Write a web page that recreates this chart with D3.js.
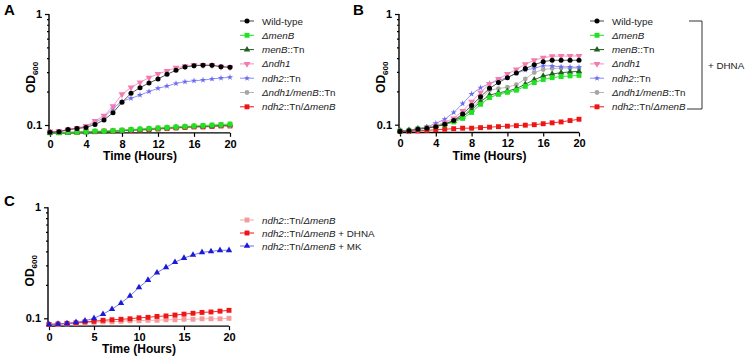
<!DOCTYPE html>
<html>
<head>
<meta charset="utf-8">
<script src="https://cdn.jsdelivr.net/npm/d3@7"></script>
<style>
  body { margin: 0; background: #fff; }
  svg { font-family: "Liberation Sans", Arial, sans-serif; }
  .tick text { font-weight: bold; font-size: 11px; }
</style>
</head>
<body>
<script>
//time points (hours)
var hours = [0,1,2,3,4,5,6,7,8,9,10,11,12,13,14,15,16,17,18,19,20];

//panel A values (OD600)
var aWT      = [0.086,0.087,0.091,0.093,0.095,0.101,0.111,0.129,0.160,0.193,0.217,0.239,0.260,0.286,0.311,0.333,0.342,0.345,0.345,0.335,0.331];
var aMenB    = [0.085,0.085,0.086,0.086,0.087,0.088,0.088,0.089,0.090,0.091,0.092,0.093,0.094,0.095,0.096,0.097,0.098,0.099,0.100,0.101,0.102];
var aMenBTn  = [0.085,0.085,0.085,0.086,0.086,0.087,0.087,0.088,0.089,0.090,0.091,0.092,0.093,0.094,0.095,0.096,0.097,0.097,0.098,0.099,0.100];
var aNdh1    = [0.087,0.088,0.091,0.094,0.098,0.109,0.121,0.148,0.189,0.218,0.242,0.267,0.288,0.307,0.328,0.338,0.347,0.347,0.345,0.335,0.331];
var aNdh2    = [0.086,0.087,0.091,0.093,0.097,0.105,0.117,0.141,0.164,0.174,0.186,0.200,0.214,0.224,0.237,0.245,0.250,0.254,0.260,0.265,0.269];
var aNdh1Men = [0.085,0.085,0.085,0.086,0.086,0.087,0.087,0.088,0.089,0.090,0.091,0.092,0.093,0.094,0.095,0.096,0.097,0.097,0.098,0.099,0.099];
var aNdh2Men = [0.086,0.086,0.086,0.086,0.087,0.087,0.088,0.088,0.089,0.090,0.090,0.091,0.092,0.093,0.094,0.095,0.096,0.096,0.097,0.098,0.098];

//panel B values (OD600, + DHNA)
var bWT      = [0.087,0.088,0.091,0.093,0.096,0.101,0.109,0.125,0.149,0.179,0.213,0.240,0.266,0.293,0.321,0.348,0.371,0.382,0.382,0.382,0.382];
var bMenB    = [0.088,0.089,0.092,0.094,0.097,0.100,0.106,0.114,0.129,0.153,0.176,0.188,0.196,0.205,0.222,0.240,0.256,0.266,0.272,0.276,0.279];
var bMenBTn  = [0.088,0.089,0.092,0.094,0.097,0.101,0.108,0.118,0.136,0.162,0.185,0.194,0.201,0.212,0.232,0.255,0.275,0.287,0.295,0.300,0.303];
var bNdh1    = [0.087,0.088,0.091,0.094,0.098,0.105,0.114,0.133,0.161,0.196,0.233,0.259,0.287,0.316,0.351,0.382,0.403,0.415,0.417,0.417,0.418];
var bNdh2    = [0.088,0.089,0.092,0.095,0.103,0.112,0.129,0.155,0.189,0.216,0.235,0.252,0.266,0.291,0.312,0.323,0.341,0.339,0.334,0.332,0.330];
var bNdh1Men = [0.088,0.089,0.092,0.094,0.097,0.102,0.110,0.121,0.141,0.170,0.205,0.212,0.218,0.230,0.259,0.296,0.315,0.322,0.325,0.325,0.325];
var bNdh2Men = [0.087,0.087,0.088,0.089,0.090,0.091,0.092,0.093,0.093,0.094,0.095,0.096,0.097,0.098,0.099,0.100,0.102,0.104,0.106,0.109,0.112];

//panel C values (OD600)
var cNone = [0.088,0.088,0.089,0.090,0.091,0.092,0.093,0.093,0.094,0.095,0.095,0.096,0.096,0.097,0.097,0.098,0.098,0.099,0.099,0.099,0.100];
var cDHNA = [0.088,0.089,0.090,0.091,0.093,0.094,0.096,0.097,0.098,0.099,0.101,0.102,0.104,0.105,0.107,0.109,0.111,0.113,0.114,0.116,0.118];
var cMK   = [0.088,0.089,0.090,0.092,0.095,0.100,0.109,0.121,0.137,0.159,0.190,0.221,0.258,0.288,0.320,0.349,0.372,0.393,0.401,0.410,0.410];

//tick labels
var xTicksAB = [0,4,8,12,16,20];
var xTicksC = [0,5,10,15,20];
var yMajor = [0.1,1];
var yMinor = [0.2,0.3,0.4,0.5,0.6,0.7,0.8,0.9];

//legend labels, split into [text, italic] pieces
var strainLabels = [
    [["Wild-type",0]],
    [["\u0394menB",1]],
    [["menB",1],["::Tn",0]],
    [["\u0394ndh1",1]],
    [["ndh2",1],["::Tn",0]],
    [["\u0394ndh1/menB",1],["::Tn",0]],
    [["ndh2",1],["::Tn/",0],["\u0394menB",1]]
];
var cLabels = [
    [["ndh2",1],["::Tn/",0],["\u0394menB",1]],
    [["ndh2",1],["::Tn/",0],["\u0394menB",1],[" + DHNA",0]],
    [["ndh2",1],["::Tn/",0],["\u0394menB",1],[" + MK",0]]
];

//marker styles for the seven strains (legend order)
var strainStyle = [
    {color:"#000000", line:"#444444", sym:d3.symbolCircle, size:20},
    {color:"#22e022", line:"#22e022", sym:d3.symbolSquare, size:24},
    {color:"#1e5e1e", line:"#1e5e1e", sym:d3.symbolTriangle, size:18},
    {color:"#f57aad", line:"#f78cb8", sym:"tridown", size:20},
    {color:"#6a6af2", line:"#8a8af5", sym:d3.symbolStar, size:12},
    {color:"#a6a6a6", line:"#b5b5b5", sym:d3.symbolCircle, size:18},
    {color:"#ee1515", line:"#ee1515", sym:d3.symbolSquare, size:24}
];
var cStyle = [
    {color:"#f59a9a", line:"#f5a5a5", sym:d3.symbolSquare, size:24},
    {color:"#ee1515", line:"#ee1515", sym:d3.symbolSquare, size:24},
    {color:"#1a1ad8", line:"#6a6ae8", sym:d3.symbolTriangle, size:18}
];

var width = 746, height = 356;

var svg = d3.select("body")
    .append("svg")
    .attr("width", width)
    .attr("height", height);

//symbol path helper (downward triangle for Δndh1)
function symPath(st){
    if (st.sym === "tridown") {
        return d3.symbol().type(d3.symbolTriangle).size(st.size)();
    }
    return d3.symbol().type(st.sym).size(st.size)();
}

function drawPanel(cfg){
    var x = d3.scaleLinear().domain([0,20]).range([cfg.x0, cfg.x1]);
    var y = d3.scaleLog().domain([1,0.1]).range([cfg.yTop, cfg.yTen]);
    var yBase = y(0.085);
    var g = svg.append("g");

    //axes
    g.append("g")
        .attr("transform", "translate(0," + yBase + ")")
        .call(d3.axisBottom(x).tickValues(cfg.xTicks).tickFormat(d3.format("d")).tickSize(4).tickSizeOuter(0))
        .call(function(a){ a.select(".domain").attr("d", "M" + (cfg.x0 - 1) + ",0H" + cfg.x1).attr("stroke-width", 1.4); });
    g.append("g")
        .attr("transform", "translate(" + (cfg.x0 - 1) + ",0)")
        .call(d3.axisLeft(y).tickValues(yMajor).tickFormat(function(d){ return d === 1 ? "1" : "0.1"; }).tickSize(4).tickSizeOuter(0))
        .call(function(a){ a.select(".domain").attr("d", "M0," + cfg.yTop + "V" + yBase).attr("stroke-width", 1.4); });
    g.append("g")
        .attr("transform", "translate(" + (cfg.x0 - 1) + ",0)")
        .call(d3.axisLeft(y).tickValues(yMinor).tickFormat("").tickSize(2).tickSizeOuter(0))
        .call(function(a){ a.select(".domain").remove(); });
    g.selectAll(".tick line").attr("stroke-width", 1.2);
    g.selectAll(".tick text").attr("fill", "#000");

    //axis titles
    g.append("text")
        .attr("x", (cfg.x0 + cfg.x1) / 2)
        .attr("y", yBase + 27)
        .attr("text-anchor", "middle")
        .attr("font-weight", "bold")
        .attr("font-size", 12)
        .text("Time (Hours)");
    var od = g.append("text")
        .attr("transform", "translate(" + (cfg.x0 - 15) + "," + ((cfg.yTop + yBase) / 2 + 4) + ") rotate(-90)")
        .attr("text-anchor", "middle")
        .attr("font-weight", "bold")
        .attr("font-size", 12);
    od.append("tspan").text("OD");
    od.append("tspan").attr("font-size", 8).attr("dy", 3).text("600");

    //panel letter
    g.append("text")
        .attr("x", cfg.letterX)
        .attr("y", cfg.letterY)
        .attr("font-weight", "bold")
        .attr("font-size", 15)
        .text(cfg.letter);

    //series lines and markers
    var line = d3.line()
        .x(function(d, i){ return x(hours[i]); })
        .y(function(d){ return y(d); });
    cfg.order.forEach(function(k){
        var st = cfg.styles[k];
        var vals = cfg.series[k];
        g.append("path")
            .datum(vals)
            .attr("fill", "none")
            .attr("stroke", st.line)
            .attr("stroke-width", 0.9)
            .attr("d", line);
        g.selectAll(null)
            .data(vals)
            .enter()
            .append("path")
            .attr("transform", function(d, i){
                return "translate(" + x(hours[i]) + "," + y(d) + ")" + (st.sym === "tridown" ? " rotate(180)" : "");
            })
            .attr("fill", st.color)
            .attr("d", symPath(st));
    });

    //legend
    var lg = g.append("g");
    cfg.labels.forEach(function(lab, i){
        var st = cfg.styles[i];
        var ly = cfg.legY + i * cfg.legStep;
        lg.append("line")
            .attr("x1", cfg.legX - 7).attr("x2", cfg.legX + 7)
            .attr("y1", ly).attr("y2", ly)
            .attr("stroke", st.line)
            .attr("stroke-width", 1);
        lg.append("path")
            .attr("transform", "translate(" + cfg.legX + "," + ly + ")" + (st.sym === "tridown" ? " rotate(180)" : ""))
            .attr("fill", st.color)
            .attr("d", symPath(st));
        var t = lg.append("text")
            .attr("x", cfg.legX + 15)
            .attr("y", ly + 3.5)
            .attr("font-size", 9.8)
            .attr("fill", "#222");
        lab.forEach(function(p){
            t.append("tspan")
                .attr("font-style", p[1] ? "italic" : "normal")
                .text(p[0]);
        });
    });
    return cfg;
}

//panel A
drawPanel({
    letter:"A", letterX:4, letterY:15,
    x0:50, x1:230, yTop:14, yTen:125, xTicks:xTicksAB,
    series:[aWT,aMenB,aMenBTn,aNdh1,aNdh2,aNdh1Men,aNdh2Men],
    styles:strainStyle, order:[6,5,2,1,4,3,0],
    labels:strainLabels, legX:247, legY:21, legStep:14.3
});

//panel B
drawPanel({
    letter:"B", letterX:353, letterY:15,
    x0:400, x1:579, yTop:14, yTen:124.7, xTicks:xTicksAB,
    series:[bWT,bMenB,bMenBTn,bNdh1,bNdh2,bNdh1Men,bNdh2Men],
    styles:strainStyle, order:[6,5,2,1,4,3,0],
    labels:strainLabels, legX:597, legY:21, legStep:14.3
});

//bracket for + DHNA
svg.append("path")
    .attr("d", "M689,21H702V109H687")
    .attr("fill", "none")
    .attr("stroke", "#333")
    .attr("stroke-width", 1);
svg.append("text")
    .attr("x", 708)
    .attr("y", 68.5)
    .attr("font-size", 9.8)
    .attr("fill", "#222")
    .text("+ DHNA");

//panel C
drawPanel({
    letter:"C", letterX:4, letterY:206,
    x0:49, x1:229, yTop:207.3, yTen:318.3, xTicks:xTicksC,
    series:[cNone,cDHNA,cMK],
    styles:cStyle, order:[0,1,2],
    labels:cLabels, legX:247, legY:220, legStep:13
});
</script>
</body>
</html>
